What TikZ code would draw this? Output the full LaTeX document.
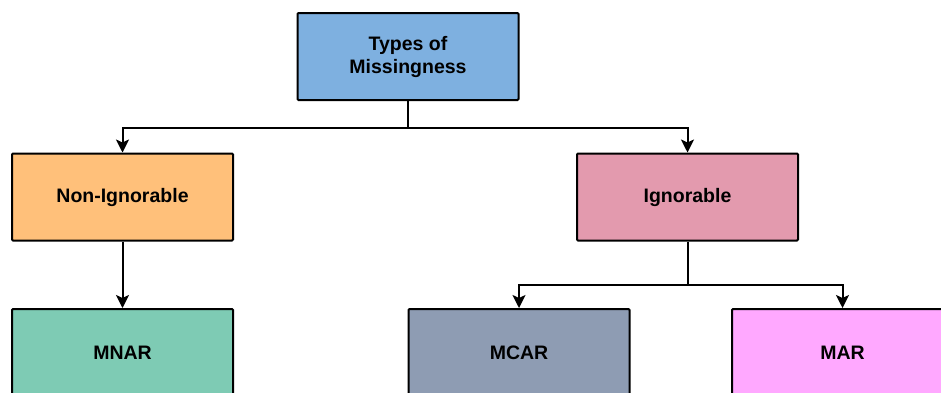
\documentclass[tikz,border=0pt]{standalone}
\usepackage{fontspec}
\setmainfont{Liberation Sans}
\usepackage{tikz}
\usetikzlibrary{arrows.meta,positioning}
\definecolor{rootc}{RGB}{126,176,224}
\definecolor{nonc}{RGB}{255,192,122}
\definecolor{ignc}{RGB}{227,154,174}
\definecolor{mnarc}{RGB}{126,203,180}
\definecolor{mcarc}{RGB}{142,156,179}
\definecolor{marc}{RGB}{255,168,255}

\begin{document}
\begin{tikzpicture}[x=1pt,y=-1pt,
  box/.style={draw=black,line width=2pt,rounded corners=1pt,minimum width=221pt,minimum height=87pt,
    align=center,font=\fontsize{19.5}{23}\selectfont\bfseries},
  arr/.style={line width=2pt,-{Stealth[length=13pt,width=13pt,inset=3pt]}}]
  \clip (0,0) rectangle (941,392);
  \useasboundingbox (0,0) rectangle (941,392);
  \node[box,fill=rootc] (root) at (408,56.5) {Types of\\Missingness};
  \node[box,fill=nonc] (nonig) at (122.5,197) {Non-Ignorable};
  \node[box,fill=ignc] (ignor) at (687.5,197) {Ignorable};
  \node[box,fill=mnarc] (mnar) at (122.5,352.5) {MNAR};
  \node[box,fill=mcarc] (mcar) at (519,352.5) {MCAR};
  \node[box,fill=marc] (mar) at (842.5,352.5) {MAR};
  % forks
  \coordinate (fork1) at (408,128);
  \coordinate (fork2) at (687.5,285);
  \draw[line width=2pt] (root.south) -- (fork1);
  \draw[arr] (fork1) -| (nonig.north);
  \draw[arr] (fork1) -| (ignor.north);
  \draw[arr] (nonig.south) -- (mnar.north);
  \draw[line width=2pt] (ignor.south) -- (fork2);
  \draw[arr] (fork2) -| (mcar.north);
  \draw[arr] (fork2) -| (mar.north);
\end{tikzpicture}
\end{document}
